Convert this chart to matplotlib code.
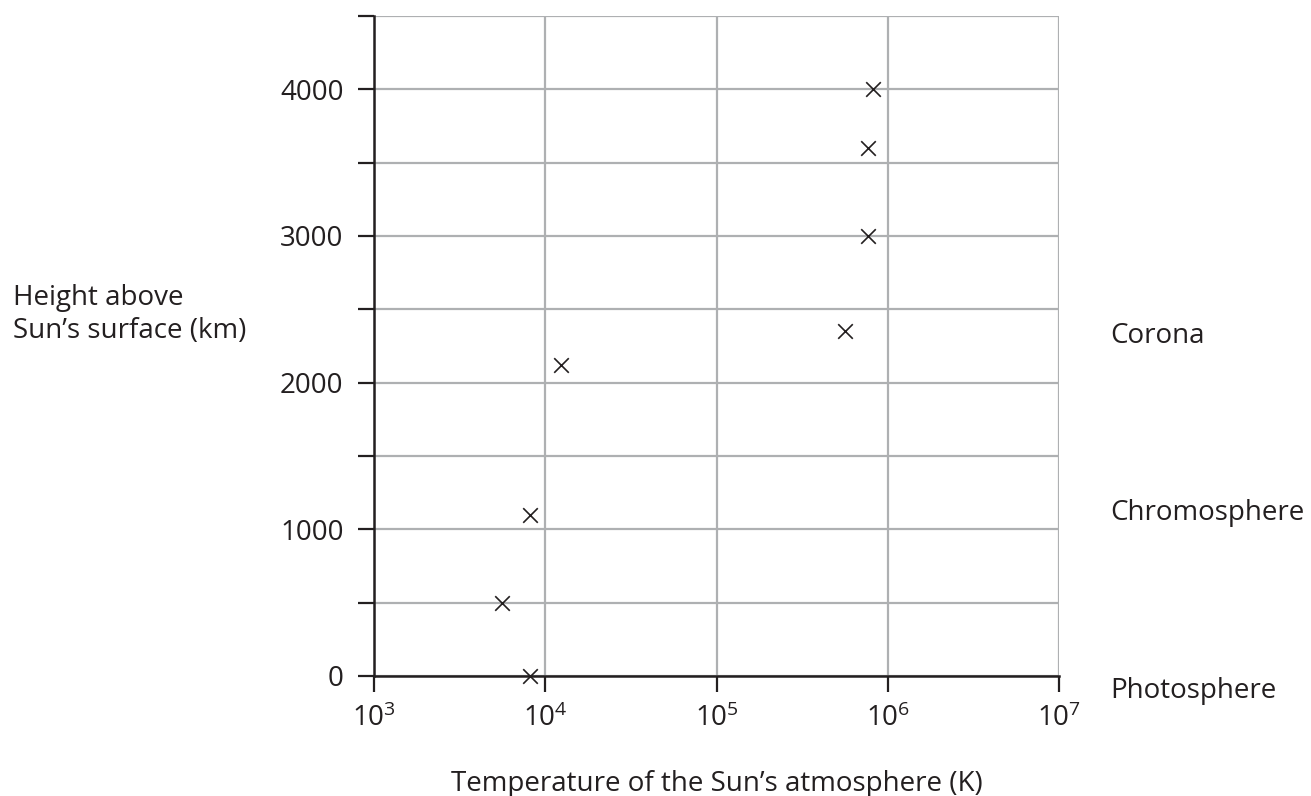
import matplotlib
matplotlib.use("Agg")
import matplotlib.pyplot as plt
from matplotlib.ticker import FixedLocator, NullLocator

# measured points: temperature (K) vs height above surface (km)
temperature = [8100, 5600, 8100, 12300, 560000, 770000, 770000, 820000]
height = [0, 500, 1100, 2120, 2350, 3000, 3600, 4000]

x_ticks = [1e3, 1e4, 1e5, 1e6, 1e7]
x_tick_labels = [r"$\mathregular{10^{3}}$", r"$\mathregular{10^{4}}$", r"$\mathregular{10^{5}}$",
                 r"$\mathregular{10^{6}}$", r"$\mathregular{10^{7}}$"]
y_ticks = [0, 500, 1000, 1500, 2000, 2500, 3000, 3500, 4000, 4500]
y_tick_labels = ["0", "", "1000", "", "2000", "", "3000", "", "4000", ""]

regions = ["Corona", "Chromosphere", "Photosphere"]

plt.rcParams["font.family"] = ["Open Sans", "DejaVu Sans"]
plt.rcParams["mathtext.fontset"] = "custom"
plt.rcParams["mathtext.rm"] = "Open Sans"

ink = "#231f20"
grid_col = "#aeb0b2"
fs = 20

fig = plt.figure(figsize=(13.11, 7.96), dpi=100)
ax = fig.add_axes([0.2853, 0.1508, 0.5225, 0.8291])

ax.set_xscale("log")
ax.set_xlim(1e3, 1e7)
ax.set_ylim(0, 4500)

ax.xaxis.set_major_locator(FixedLocator(x_ticks))
ax.xaxis.set_minor_locator(NullLocator())
ax.set_xticklabels(x_tick_labels)
ax.set_yticks(y_ticks)
ax.set_yticklabels(y_tick_labels)

ax.grid(True, color=grid_col, linewidth=1.6, zorder=0)
ax.set_axisbelow(True)

for s in ["top", "right"]:
    ax.spines[s].set_visible(False)
for s in ["left", "bottom"]:
    ax.spines[s].set_color(ink)
    ax.spines[s].set_linewidth(1.8)
    ax.spines[s].set_zorder(3)

ax.tick_params(axis="both", direction="out", length=11.5, width=1.6, color=ink,
               labelcolor=ink, labelsize=fs)
ax.tick_params(axis="y", pad=10.5)
ax.tick_params(axis="x", pad=9)

ax.scatter(temperature, height, marker="x", s=110, color=ink, linewidths=1.2,
           zorder=4, clip_on=False)

# y axis title, two lines
H = 796.0
fig.text(13 / 1311, 1 - 305 / H, "Height above", ha="left", va="baseline",
         fontsize=fs, color=ink)
fig.text(13 / 1311, 1 - 338 / H, "Sun\u2019s surface (km)", ha="left", va="baseline",
         fontsize=fs, color=ink)
fig.text(0.5465, 1 - 791 / H, "Temperature of the Sun\u2019s atmosphere (K)", ha="center",
         va="baseline", fontsize=fs, color=ink)

region_base = [343, 520, 698]
for name, yy in zip(regions, region_base):
    fig.text(1110 / 1311, 1 - yy / H, name, ha="left", va="baseline", fontsize=fs, color=ink)

fig.savefig("out.png", dpi=100)
